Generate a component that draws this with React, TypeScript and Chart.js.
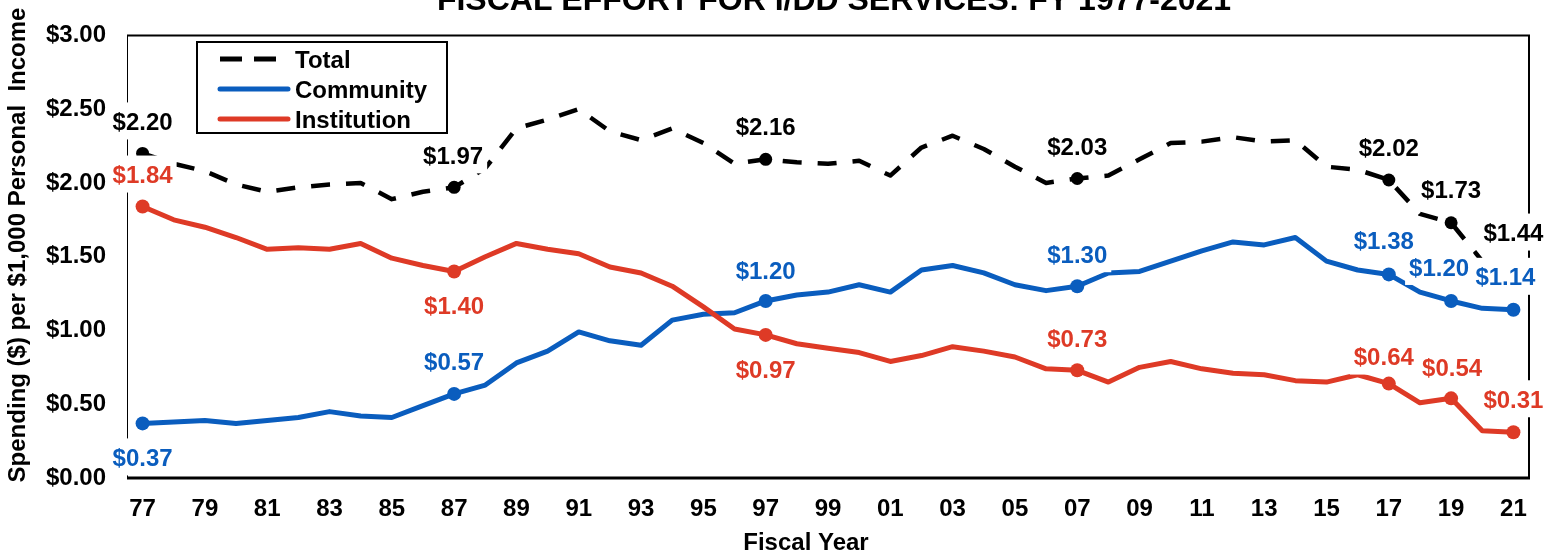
import React, { useEffect, useRef } from 'react';
import { Chart, registerables } from 'chart.js';

Chart.register(...registerables);

// ---------- DATA ----------
const fiscalYears = [
  '77', '78', '79', '80', '81', '82', '83', '84', '85', '86',
  '87', '88', '89', '90', '91', '92', '93', '94', '95', '96',
  '97', '98', '99', '00', '01', '02', '03', '04', '05', '06',
  '07', '08', '09', '10', '11', '12', '13', '14', '15', '16',
  '17', '18', '19', '20', '21',
];

const totalSpending = [
  2.20, 2.13, 2.08, 1.99, 1.94, 1.97, 1.99, 2.00, 1.89, 1.94,
  1.97, 2.10, 2.37, 2.43, 2.50, 2.35, 2.29, 2.37, 2.27, 2.13,
  2.16, 2.14, 2.13, 2.15, 2.05, 2.24, 2.32, 2.23, 2.11, 2.00,
  2.03, 2.05, 2.16, 2.27, 2.28, 2.31, 2.28, 2.29, 2.11, 2.09,
  2.02, 1.79, 1.73, 1.47, 1.44,
];

const communitySpending = [
  0.37, 0.38, 0.39, 0.37, 0.39, 0.41, 0.45, 0.42, 0.41, 0.49,
  0.57, 0.63, 0.78, 0.86, 0.99, 0.93, 0.90, 1.07, 1.11, 1.12,
  1.20, 1.24, 1.26, 1.31, 1.26, 1.41, 1.44, 1.39, 1.31, 1.27,
  1.30, 1.39, 1.40, 1.47, 1.54, 1.60, 1.58, 1.63, 1.47, 1.41,
  1.38, 1.26, 1.20, 1.15, 1.14,
];

const institutionSpending = [
  1.84, 1.75, 1.70, 1.63, 1.55, 1.56, 1.55, 1.59, 1.49, 1.44,
  1.40, 1.50, 1.59, 1.55, 1.52, 1.43, 1.39, 1.30, 1.16, 1.01,
  0.97, 0.91, 0.88, 0.85, 0.79, 0.83, 0.89, 0.86, 0.82, 0.74,
  0.73, 0.65, 0.75, 0.79, 0.74, 0.71, 0.70, 0.66, 0.65, 0.70,
  0.64, 0.51, 0.54, 0.32, 0.31,
];

// years that carry a marker and a value label (77, 87, 97, 07, 17, 19, 21)
const markerIndices = [0, 10, 20, 30, 40, 42, 44];

const yMin = 0;
const yMax = 3;
const yStep = 0.5;

const TITLE = 'FISCAL EFFORT FOR I/DD SERVICES: FY 1977-2021';
const X_TITLE = 'Fiscal Year';
const Y_TITLE = 'Spending ($) per $1,000 Personal  Income';

const seriesNames = ['Total', 'Community', 'Institution'];

// ---------- STYLE ----------
const BLACK = '#000000';
const BLUE = '#0A5DBE';
const RED = '#DE3A26';
const FONT = '"Liberation Sans", Arial, Helvetica, sans-serif';
const FS = 24;

// label offsets (px) relative to each marker, per series, per marker index
const totalLabelOffsets = [[0, -32], [-1, -32], [0, -33], [0, -32], [0, -33], [0, -33], [0, -33]];
const communityLabelOffsets = [[0, 34], [0, -32], [0, -31], [0, -32], [-5, -34], [-12, -34], [-8, -33]];
const institutionLabelOffsets = [[0, -32], [0, 34], [0, 35], [0, -32], [-5, -27], [1, -31], [0, -33]];

const money = (v: number) => '$' + v.toFixed(2);

const decorPlugin = {
  id: 'decor',
  beforeDatasetsDraw(chart: any) {
    const { ctx, chartArea: a } = chart;
    ctx.save();
    ctx.strokeStyle = BLACK;
    // top + right frame
    ctx.lineWidth = 2;
    ctx.beginPath();
    ctx.moveTo(a.left, a.top);
    ctx.lineTo(a.right, a.top);
    ctx.lineTo(a.right, a.bottom);
    ctx.stroke();
    // left axis
    ctx.lineWidth = 1;
    ctx.beginPath();
    ctx.moveTo(a.left + 0.5, a.top);
    ctx.lineTo(a.left + 0.5, a.bottom);
    ctx.stroke();
    // bottom axis
    ctx.lineWidth = 3;
    ctx.beginPath();
    ctx.moveTo(a.left, a.bottom);
    ctx.lineTo(a.right + 1, a.bottom);
    ctx.stroke();
    ctx.restore();
  },
  afterDatasetsDraw(chart: any) {
    const { ctx } = chart;
    const specs = [
      { ds: 0, data: totalSpending, color: BLACK, offsets: totalLabelOffsets },
      { ds: 1, data: communitySpending, color: BLUE, offsets: communityLabelOffsets },
      { ds: 2, data: institutionSpending, color: RED, offsets: institutionLabelOffsets },
    ];
    ctx.save();
    ctx.font = `bold ${FS}px ${FONT}`;
    ctx.textAlign = 'center';
    ctx.textBaseline = 'alphabetic';
    const items: any[] = [];
    specs.forEach((s) => {
      const meta = chart.getDatasetMeta(s.ds);
      markerIndices.forEach((idx, k) => {
        const pt = meta.data[idx];
        const [dx, dy] = s.offsets[k];
        const text = money(s.data[idx]);
        const w = ctx.measureText(text).width;
        items.push({ x: pt.x + dx, y: pt.y + dy, w, text, color: s.color });
      });
    });
    ctx.fillStyle = '#ffffff';
    items.forEach((it) => ctx.fillRect(it.x - it.w / 2 - 4, it.y - 19, it.w + 8, 37));
    items.forEach((it) => {
      ctx.fillStyle = it.color;
      ctx.fillText(it.text, it.x, it.y + FS * 0.358);
    });
    ctx.restore();
  },
  afterDraw(chart: any) {
    const { ctx } = chart;
    ctx.save();
    ctx.fillStyle = BLACK;
    // main title (partly above the canvas)
    ctx.font = `bold 32px ${FONT}`;
    ctx.textAlign = 'center';
    ctx.textBaseline = 'alphabetic';
    ctx.fillText(TITLE, 834, 10);
    // x title
    ctx.font = `bold ${FS}px ${FONT}`;
    ctx.fillText(X_TITLE, 806, 550);
    // y title
    ctx.save();
    ctx.translate(0, 245);
    ctx.rotate(-Math.PI / 2);
    ctx.fillText(Y_TITLE, 0, 24.5);
    ctx.restore();

    // legend
    ctx.strokeStyle = BLACK;
    ctx.lineWidth = 2;
    ctx.strokeRect(197, 42, 250, 91);
    const rows = [
      { name: seriesNames[0], color: BLACK, dash: [22, 12], y: 59 },
      { name: seriesNames[1], color: BLUE, dash: [], y: 89 },
      { name: seriesNames[2], color: RED, dash: [], y: 119 },
    ];
    rows.forEach((r) => {
      ctx.save();
      ctx.strokeStyle = r.color;
      ctx.lineWidth = 5;
      ctx.setLineDash(r.dash);
      ctx.lineCap = r.dash.length ? 'butt' : 'round';
      ctx.beginPath();
      ctx.moveTo(220, r.y);
      ctx.lineTo(r.dash.length ? 277 : 288, r.y);
      ctx.stroke();
      ctx.restore();
      ctx.fillStyle = BLACK;
      ctx.textAlign = 'left';
      ctx.font = `bold ${FS}px ${FONT}`;
      ctx.fillText(r.name, 295, r.y + FS * 0.358);
    });
    ctx.restore();
  },
};

export default function App() {
  const canvasRef = useRef<HTMLCanvasElement | null>(null);

  useEffect(() => {
    const canvas = canvasRef.current;
    if (!canvas) return;
    const radius = (r: number) => (c: any) => (markerIndices.includes(c.dataIndex) ? r : 0);

    const chart = new Chart(canvas, {
      type: 'line',
      data: {
        labels: fiscalYears,
        datasets: [
          {
            label: seriesNames[0],
            data: totalSpending,
            borderColor: BLACK,
            backgroundColor: BLACK,
            borderWidth: 4.5,
            borderDash: [19, 16],
            borderCapStyle: 'butt',
            borderJoinStyle: 'round',
            pointRadius: radius(6.5),
            pointBackgroundColor: BLACK,
            pointBorderWidth: 0,
            pointHoverRadius: 0,
            tension: 0,
            order: 0,
          },
          {
            label: seriesNames[1],
            data: communitySpending,
            borderColor: BLUE,
            backgroundColor: BLUE,
            borderWidth: 5,
            borderCapStyle: 'round',
            borderJoinStyle: 'round',
            pointRadius: radius(7),
            pointBackgroundColor: BLUE,
            pointBorderWidth: 0,
            pointHoverRadius: 0,
            tension: 0,
            order: 2,
          },
          {
            label: seriesNames[2],
            data: institutionSpending,
            borderColor: RED,
            backgroundColor: RED,
            borderWidth: 5,
            borderCapStyle: 'round',
            borderJoinStyle: 'round',
            pointRadius: radius(7),
            pointBackgroundColor: RED,
            pointBorderWidth: 0,
            pointHoverRadius: 0,
            tension: 0,
            order: 1,
          },
        ],
      },
      options: {
        responsive: false,
        animation: false,
        events: [],
        layout: { padding: { top: 31, right: 28, left: 0, bottom: 0 } },
        plugins: {
          legend: { display: false },
          title: { display: false },
          tooltip: { enabled: false },
        },
        scales: {
          x: {
            type: 'category',
            offset: true,
            grid: { display: false, drawTicks: false },
            border: { display: false },
            ticks: {
              autoSkip: false,
              maxRotation: 0,
              minRotation: 0,
              padding: 17,
              color: BLACK,
              font: { family: FONT, size: FS, weight: 'bold' },
              callback: (_v: any, i: number) => (i % 2 === 0 ? fiscalYears[i] : ''),
            },
            afterFit: (s: any) => {
              s.height = 75;
            },
          },
          y: {
            min: yMin,
            max: yMax,
            grid: { display: false, drawTicks: false },
            border: { display: false },
            ticks: {
              stepSize: yStep,
              padding: 21,
              color: BLACK,
              font: { family: FONT, size: FS, weight: 'bold' },
              callback: (v: any) => money(Number(v)),
            },
            afterFit: (s: any) => {
              s.width = 127;
            },
          },
        },
      },
      plugins: [decorPlugin],
    } as any);

    return () => chart.destroy();
  }, []);

  return (
    <div style={{ position: 'absolute', left: 0, top: 0, width: 1557, height: 553, background: '#ffffff' }}>
      <canvas ref={canvasRef} width={1557} height={553} style={{ display: 'block' }} />
    </div>
  );
}
